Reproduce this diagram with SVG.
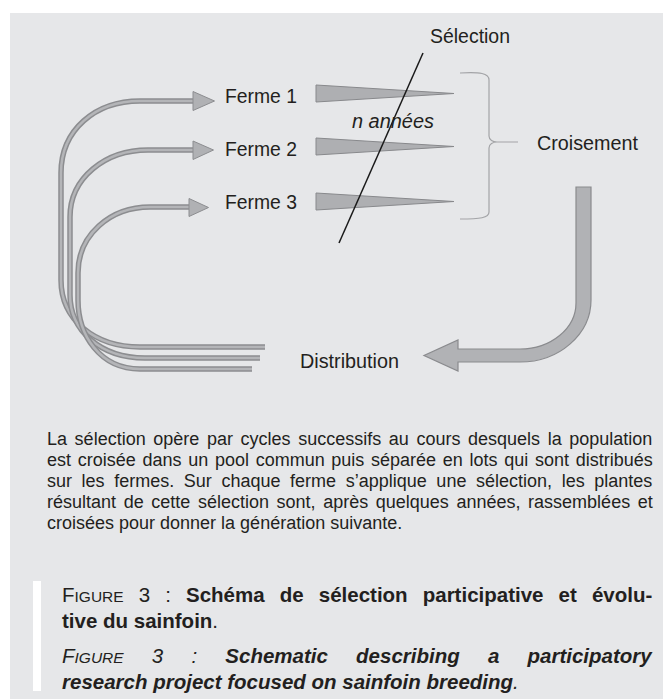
<svg xmlns="http://www.w3.org/2000/svg" width="663" height="699" viewBox="0 0 663 699">
<defs>
<style>
.t{font-family:"Liberation Sans",Arial,sans-serif;fill:#231f20;}
.lbl{font-size:20px;}
.par{font-size:18px;}
.cap{font-size:20.5px;}
.shO{fill:none;stroke:#8c8d90;stroke-width:5.5;}
.shI{fill:none;stroke:#b4b5b8;stroke-width:2.5;}
.head{fill:#b0b1b4;stroke:#8c8d90;stroke-width:1;}
.wedge{fill:#aeafb2;stroke:#88898c;stroke-width:1;}
</style>
<path id="p1" d="M265,347 H140 C95,347 61,320 61,280 V173 C61,130 95,101 140,101 H194"/>
<path id="p2" d="M260,358 H145 C100,358 70,330 70,295 V217 C70,178 105,150 148,150 H194"/>
<path id="p3" d="M252,369 H140 C100,369 78,335 78,300 V273 C78,235 110,207 150,207 H190"/>
</defs>
<rect x="10" y="13" width="653" height="686" fill="#e6e7e9"/>
<rect x="33" y="581" width="8" height="110" fill="#ffffff"/>

<g id="connectors">
<use href="#p1" class="shO"/><use href="#p1" class="shI"/>
<use href="#p2" class="shO"/><use href="#p2" class="shI"/>
<use href="#p3" class="shO"/><use href="#p3" class="shI"/>
<polygon class="head" points="193,91.5 214.5,101 193,110.5"/>
<polygon class="head" points="193,141 213.5,150 193,159.5"/>
<polygon class="head" points="189,198.5 208.5,207.5 189,216.5"/>
<path d="M576,187 H591 V300 A71,62 0 0 1 520,362 H458 V371 L424,355.5 L458,340 V349 H520 A56,46 0 0 0 576,303 Z" fill="#b1b2b5" stroke="#8a8b8e" stroke-width="1.2"/>
<path d="M460,73 C480,72 489,73 489,80 V136 C489,140 493,142 497,142 H518 M497,142 C493,142 489,144 489,148 V212 C489,218 480,219 460,219" fill="none" stroke="#a3a4a7" stroke-width="1.2"/>
</g>

<g id="wedges">
<polygon class="wedge" points="316,85 316,102 454,93.5"/>
<polygon class="wedge" points="316,138 316,155 454,146.5"/>
<polygon class="wedge" points="316,193 316,210 454,201.5"/>
</g>

<g id="selection-line">
<line x1="423" y1="53" x2="339" y2="243" stroke="#1a1a1a" stroke-width="1.5"/>
</g>

<g id="selection"><text class="t lbl" x="430" y="43" textLength="80" lengthAdjust="spacingAndGlyphs">Sélection</text></g>
<g id="ferme1"><text class="t lbl" x="225" y="103" textLength="72" lengthAdjust="spacingAndGlyphs">Ferme 1</text></g>
<g id="ferme2"><text class="t lbl" x="225" y="156" textLength="72" lengthAdjust="spacingAndGlyphs">Ferme 2</text></g>
<g id="ferme3"><text class="t lbl" x="225" y="209" textLength="72" lengthAdjust="spacingAndGlyphs">Ferme 3</text></g>
<g id="nannees"><text class="t lbl" x="352" y="128" font-style="italic" textLength="82" lengthAdjust="spacingAndGlyphs">n années</text></g>
<g id="croisement"><text class="t lbl" x="537" y="150" textLength="101" lengthAdjust="spacingAndGlyphs">Croisement</text></g>
<g id="distribution"><text class="t lbl" x="300" y="368" textLength="99" lengthAdjust="spacingAndGlyphs">Distribution</text></g>

<g id="paragraph" class="t par">
<text x="47" y="445" word-spacing="2.6">La sélection opère par cycles successifs au cours desquels la population</text>
<text x="47" y="466" word-spacing="1.7">est croisée dans un pool commun puis séparée en lots qui sont distribués</text>
<text x="47" y="487" word-spacing="4.6">sur les fermes. Sur chaque ferme s’applique une sélection, les plantes</text>
<text x="47" y="508" word-spacing="2.6">résultant de cette sélection sont, après quelques années, rassemblées et</text>
<text x="47" y="529">croisées pour donner la génération suivante.</text>
</g>

<g id="caption" class="t cap">
<text x="62" y="602" word-spacing="9.4">F<tspan font-size="15.5">IGURE</tspan> 3 : <tspan font-weight="bold">Schéma de sélection participative et évolu-</tspan></text>
<text x="62" y="628"><tspan font-weight="bold">tive du sainfoin</tspan>.</text>
<text x="62" y="663" font-style="italic" word-spacing="22.5">F<tspan font-size="15.5">IGURE</tspan> 3 : <tspan font-weight="bold">Schematic describing a participatory</tspan></text>
<text x="62" y="689" font-style="italic"><tspan font-weight="bold">research project focused on sainfoin breeding</tspan>.</text>
</g>
</svg>
